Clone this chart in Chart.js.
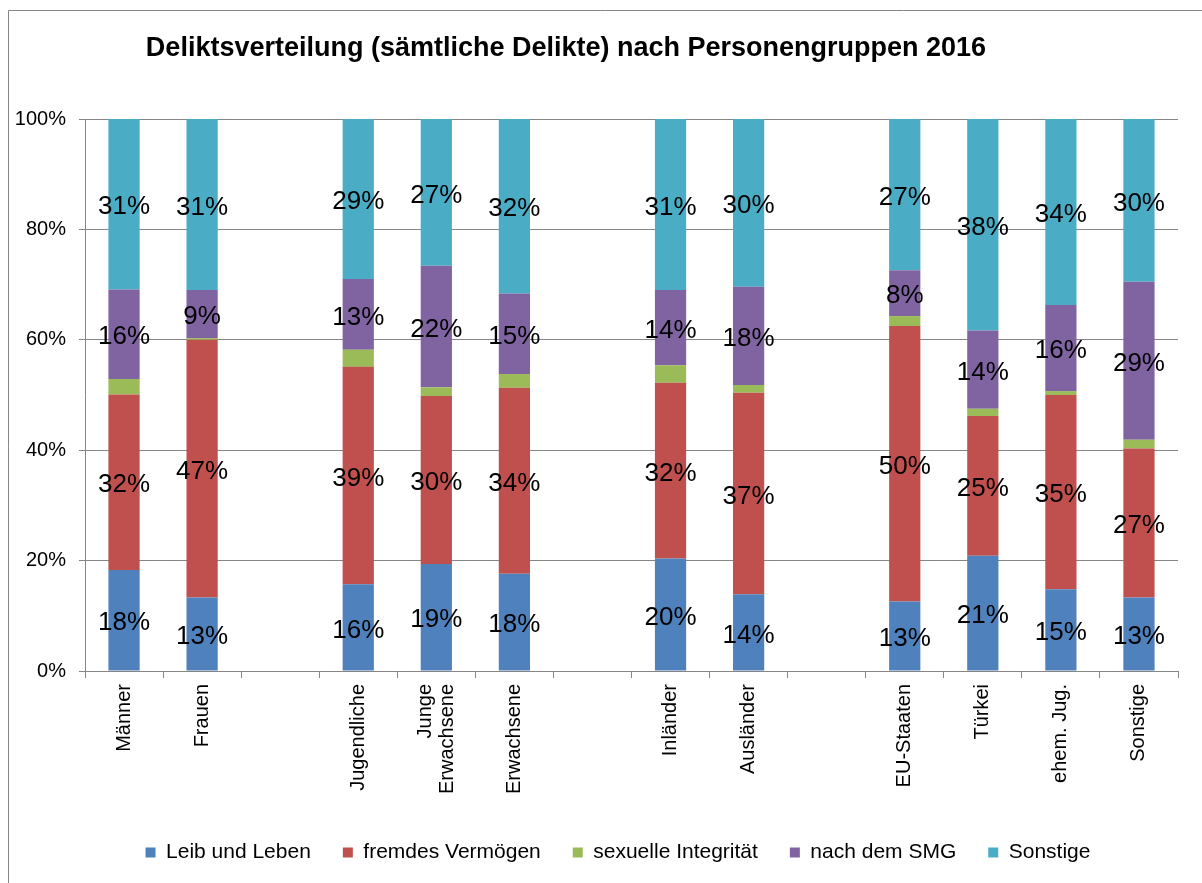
<!DOCTYPE html>
<html>
<head>
<meta charset="utf-8">
<script src="https://cdn.jsdelivr.net/npm/chart.js@4.4.1/dist/chart.umd.min.js"></script>
<style>
  html, body { margin: 0; padding: 0; background: #ffffff; }
  #c { display: block; }
</style>
</head>
<body>
<canvas id="c" width="1202" height="883"></canvas>
<script>
const chartTitle = 'Deliktsverteilung (sämtliche Delikte) nach Personengruppen 2016';
const categories = ['Männer', 'Frauen', '', 'Jugendliche', ['Junge', 'Erwachsene'], 'Erwachsene', '', 'Inländer', 'Ausländer', '', 'EU-Staaten', 'Türkei', 'ehem. Jug.', 'Sonstige'];
const seriesNames = ['Leib und Leben', 'fremdes Vermögen', 'sexuelle Integrität', 'nach dem SMG', 'Sonstige'];
const leibUndLeben      = [18.3, 13.3, null, 15.7, 19.4, 17.6, null, 20.4, 13.9, null, 12.6, 20.9, 14.8, 13.3];
const fremdesVermoegen  = [31.8, 46.7, null, 39.4, 30.4, 33.7, null, 31.8, 36.5, null, 49.9, 25.3, 35.2, 27.0];
const sexuelleIntegr    = [2.8, 0.3, null, 3.1, 1.6, 2.5, null, 3.2, 1.4, null, 1.8, 1.3, 0.7, 1.6];
const nachDemSMG        = [16.2, 8.7, null, 12.8, 22.0, 14.6, null, 13.6, 17.8, null, 8.3, 14.2, 15.6, 28.6];
const sonstigeDelikte   = [30.9, 31.0, null, 29.0, 26.6, 31.6, null, 31.0, 30.4, null, 27.4, 38.3, 33.7, 29.5];
const yTicks = [0, 20, 40, 60, 80, 100];

const colors = ['#4F81BD', '#C0504D', '#9BBB59', '#8064A2', '#4BACC6'];
const showLabels = [true, true, false, true, true];
const seriesData = [leibUndLeben, fremdesVermoegen, sexuelleIntegr, nachDemSMG, sonstigeDelikte];
const FONT = "'Liberation Sans', Arial, Helvetica, sans-serif";
const GRID = '#868686';

const framePlugin = {
  id: 'frameTitle',
  afterLayout(chart) {
    // nudge the legend row to the right, as in the reference
    if (chart.legend) {
      chart.legend.left += 12;
      chart.legend.right += 12;
    }
  },
  beforeDraw(chart) {
    const ctx = chart.ctx;
    ctx.save();
    ctx.fillStyle = '#ffffff';
    ctx.fillRect(0, 0, chart.width, chart.height);
    ctx.strokeStyle = GRID;
    ctx.lineWidth = 1;
    ctx.beginPath();
    ctx.moveTo(8.5, chart.height);
    ctx.lineTo(8.5, 10.5);
    ctx.lineTo(chart.width, 10.5);
    ctx.stroke();
    ctx.restore();
    // center multi-line rotated category labels on their tick
    const xs = chart.scales.x;
    const items = xs.getLabelItems(chart.chartArea);
    items.forEach(it => {
      if (Array.isArray(it.label) && it.label.length > 1) {
        if (!it._centered) {
          it.textOffset -= (it.label.length - 1) * it.font.lineHeight / 2;
          it._centered = true;
        }
      }
    });
  },
  afterDraw(chart) {
    const ctx = chart.ctx;
    ctx.save();
    ctx.font = 'bold 27px ' + FONT;
    ctx.fillStyle = '#000000';
    ctx.textAlign = 'center';
    ctx.textBaseline = 'middle';
    ctx.fillText(chartTitle, 566, 49);
    ctx.restore();
  }
};

const labelPlugin = {
  id: 'segLabels',
  afterDatasetsDraw(chart) {
    const ctx = chart.ctx;
    ctx.save();
    ctx.font = '26px ' + FONT;
    ctx.fillStyle = '#000000';
    ctx.textAlign = 'center';
    ctx.textBaseline = 'middle';
    chart.data.datasets.forEach((ds, di) => {
      if (!showLabels[di]) return;
      const meta = chart.getDatasetMeta(di);
      meta.data.forEach((el, i) => {
        const v = ds.data[i];
        if (v === null || v === undefined) return;
        const p = el.getProps(['x', 'y', 'base'], true);
        ctx.fillText(Math.round(v) + '%', p.x, (p.y + p.base) / 2 + 3);
      });
    });
    ctx.restore();
  }
};

new Chart(document.getElementById('c'), {
  type: 'bar',
  data: {
    labels: categories,
    datasets: seriesData.map((d, i) => ({
      label: seriesNames[i],
      data: d,
      backgroundColor: colors[i],
      borderWidth: 0,
      categoryPercentage: 1.0,
      barPercentage: 0.4
    }))
  },
  options: {
    responsive: false,
    animation: false,
    devicePixelRatio: 1,
    layout: { padding: { left: 10, right: 0, top: 119, bottom: 10 } },
    plugins: {
      title: { display: false },
      tooltip: { enabled: false },
      legend: {
        display: true,
        position: 'bottom',
        labels: {
          boxWidth: 10,
          boxHeight: 10,
          padding: 32,
          color: '#000000',
          font: { family: FONT, size: 21 }
        }
      }
    },
    scales: {
      x: {
        stacked: true,
        offset: true,
        afterFit(scale) { scale.height = 139; },
        grid: {
          offset: true,
          drawOnChartArea: false,
          drawTicks: true,
          tickLength: 7,
          color: GRID
        },
        border: { display: true, color: GRID, width: 1 },
        ticks: {
          autoSkip: false,
          maxRotation: 90,
          minRotation: 90,
          padding: 6,
          color: '#000000',
          font: { family: FONT, size: 20, lineHeight: 1.1 }
        }
      },
      y: {
        stacked: true,
        min: 0,
        max: 100,
        afterFit(scale) { scale.width = 75; },
        afterBuildTicks(scale) { scale.ticks = yTicks.map(v => ({ value: v })); },
        grid: {
          color: GRID,
          drawTicks: true,
          tickLength: 6
        },
        border: { display: true, color: GRID, width: 1 },
        ticks: {
          padding: 13,
          color: '#000000',
          font: { family: FONT, size: 20 },
          callback: (v) => v + '%'
        }
      },
      yRightSpace: {
        type: 'linear',
        position: 'right',
        display: true,
        afterFit(scale) { scale.width = 24; },
        grid: { display: false, drawTicks: false },
        border: { display: false },
        ticks: { display: false }
      }
    }
  },
  plugins: [framePlugin, labelPlugin]
});
</script>
</body>
</html>
